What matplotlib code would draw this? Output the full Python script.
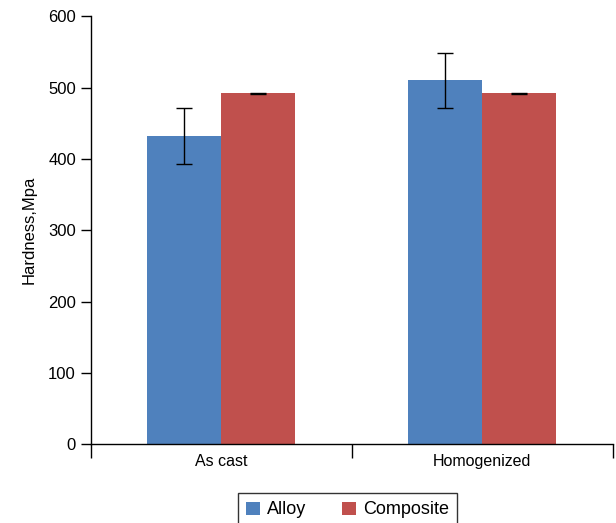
import matplotlib.pyplot as plt
import numpy as np

plt.rcParams['font.family'] = ['Liberation Sans', 'DejaVu Sans']

categories = ['As cast', 'Homogenized']
alloy = [432, 510]
alloy_err = [39, 38]
composite = [492, 492]
composite_err = [1, 1]

blue = '#4F81BD'
red = '#C0504D'

fig = plt.figure(figsize=(6.16, 5.23), dpi=100)
ax = fig.add_axes([0.147, 0.1505, 0.848, 0.8185])

x = np.arange(len(categories))
w = 0.283
err_kw = dict(ecolor='black', elinewidth=1, capsize=6, capthick=1)
ax.bar(x - w / 2, alloy, w, yerr=alloy_err, color=blue, label='Alloy', error_kw=err_kw)
ax.bar(x + w / 2, composite, w, yerr=composite_err, color=red, label='Composite', error_kw=err_kw)

ax.set_xlim(-0.5, 1.5)
ax.set_ylim(0, 600)
ax.set_yticks(range(0, 601, 100))
ax.set_xticks(x)
ax.set_xticklabels(categories)
ax.set_xticks([-0.5, 0.5, 1.5], minor=True)
ax.tick_params(axis='x', which='major', length=0, labelsize=11.5, pad=7)
ax.tick_params(axis='x', which='minor', length=10, width=1, direction='out')
ax.tick_params(axis='y', length=7, width=1, labelsize=12, direction='out')
ax.set_ylabel('Hardness,Mpa', fontsize=12, labelpad=8)

for s in ['top', 'right']:
    ax.spines[s].set_visible(False)
for s in ['left', 'bottom']:
    ax.spines[s].set_linewidth(1)

leg = fig.legend(loc='upper center', bbox_to_anchor=(0.564, 0.074), ncol=2,
                 fontsize=13, frameon=True, fancybox=False, edgecolor='black',
                 handlelength=0.75, handleheight=0.75, handletextpad=0.4,
                 columnspacing=2.0, borderpad=0.45)
leg.get_frame().set_linewidth(1)

fig.savefig('out.png', dpi=100)
